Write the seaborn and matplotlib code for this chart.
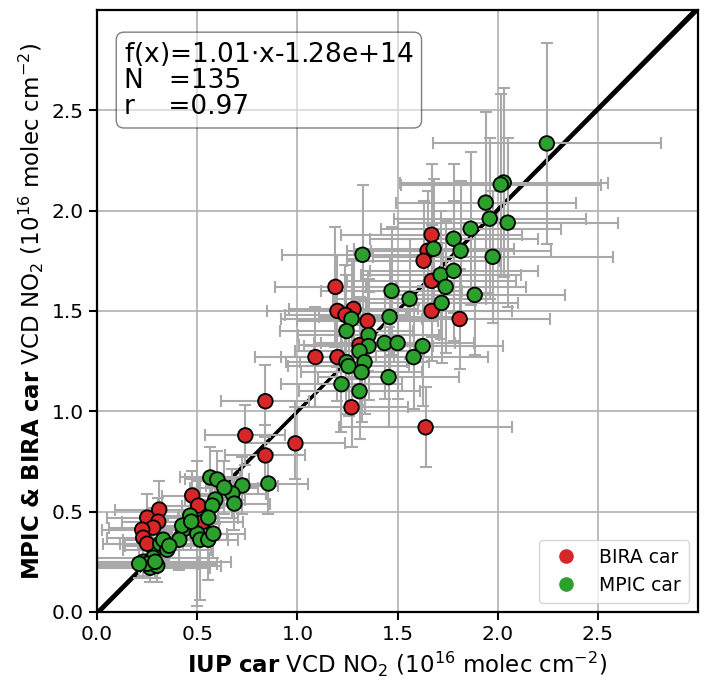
import numpy as np
import pandas as pd
import seaborn as sns
import matplotlib.pyplot as plt
from matplotlib.lines import Line2D

# VCD NO2 in 1e16 molec cm-2
bira_x = [1.67, 1.65, 1.63, 1.67, 1.67, 1.81, 1.64, 1.19, 1.20, 1.28,
          1.35, 1.31, 1.20, 1.09, 1.27, 0.74, 0.84, 0.84, 0.99, 1.24,
          0.475, 0.505, 0.53, 0.31, 0.25, 0.305, 0.28, 0.225, 0.23, 0.25]
bira_y = [1.88, 1.80, 1.75, 1.65, 1.50, 1.46, 0.92, 1.62, 1.50, 1.51,
          1.45, 1.33, 1.27, 1.27, 1.02, 0.88, 1.05, 0.78, 0.84, 1.48,
          0.58, 0.53, 0.45, 0.51, 0.47, 0.45, 0.42, 0.41, 0.37, 0.34]
bira_xerr = [0.45, 0.40, 0.38, 0.42, 0.40, 0.45, 0.43, 0.30, 0.35, 0.32,
             0.35, 0.30, 0.28, 0.30, 0.28, 0.20, 0.22, 0.20, 0.25, 0.30,
             0.15, 0.18, 0.20, 0.22, 0.20, 0.18, 0.22, 0.20, 0.18, 0.22]
bira_yerr = [0.35, 0.30, 0.30, 0.28, 0.25, 0.25, 0.20, 0.30, 0.28, 0.25,
             0.25, 0.22, 0.22, 0.25, 0.20, 0.15, 0.18, 0.15, 0.18, 0.25,
             0.12, 0.12, 0.10, 0.14, 0.12, 0.12, 0.10, 0.10, 0.10, 0.12]

mpic_x = [2.245, 2.03, 2.015, 1.94, 1.96, 2.05, 1.865, 1.78, 1.68, 1.815,
          1.975, 1.715, 1.78, 1.74, 1.885, 1.72, 1.56, 1.47, 1.46, 1.325,
          1.27, 1.245, 1.355, 1.355, 1.435, 1.50, 1.625, 1.58, 1.31, 1.245,
          1.255, 1.335, 1.32, 1.455, 1.22, 1.31,
          0.855, 0.725, 0.675, 0.685, 0.565, 0.60, 0.635, 0.59, 0.575, 0.465,
          0.555, 0.43, 0.41, 0.50, 0.515, 0.555, 0.58, 0.315, 0.35, 0.28,
          0.265, 0.23, 0.30, 0.425, 0.47, 0.33, 0.36, 0.25, 0.21, 0.29]
mpic_y = [2.335, 2.14, 2.13, 2.04, 1.96, 1.94, 1.91, 1.86, 1.81, 1.80,
          1.77, 1.68, 1.70, 1.62, 1.58, 1.54, 1.56, 1.60, 1.47, 1.78,
          1.46, 1.40, 1.38, 1.325, 1.34, 1.34, 1.325, 1.27, 1.30, 1.245,
          1.225, 1.245, 1.195, 1.17, 1.135, 1.10,
          0.64, 0.63, 0.59, 0.54, 0.67, 0.66, 0.62, 0.56, 0.53, 0.48,
          0.47, 0.41, 0.36, 0.39, 0.36, 0.36, 0.39, 0.34, 0.31, 0.27,
          0.22, 0.25, 0.23, 0.43, 0.45, 0.36, 0.33, 0.24, 0.24, 0.25]
mpic_xerr = [0.57, 0.52, 0.50, 0.45, 0.48, 0.55, 0.45, 0.42, 0.40, 0.45,
             0.60, 0.40, 0.42, 0.40, 0.45, 0.38, 0.38, 0.35, 0.35, 0.40,
             0.35, 0.33, 0.35, 0.32, 0.35, 0.38, 0.40, 0.37, 0.32, 0.30,
             0.30, 0.32, 0.30, 0.35, 0.30, 0.30,
             0.20, 0.18, 0.17, 0.18, 0.15, 0.16, 0.17, 0.15, 0.15, 0.14,
             0.15, 0.13, 0.14, 0.15, 0.14, 0.15, 0.16, 0.20, 0.22, 0.28,
             0.30, 0.28, 0.32, 0.14, 0.14, 0.20, 0.22, 0.35, 0.30, 0.38]
mpic_yerr = [0.50, 0.47, 0.45, 0.45, 0.40, 0.42, 0.38, 0.37, 0.35, 0.35,
             0.33, 0.32, 0.35, 0.33, 0.30, 0.30, 0.30, 0.32, 0.30, 0.35,
             0.30, 0.28, 0.28, 0.27, 0.28, 0.28, 0.30, 0.26, 0.27, 0.26,
             0.25, 0.26, 0.25, 0.25, 0.24, 0.24,
             0.15, 0.14, 0.12, 0.13, 0.15, 0.14, 0.13, 0.12, 0.12, 0.11,
             0.12, 0.10, 0.15, 0.36, 0.30, 0.20, 0.12, 0.10, 0.09, 0.08,
             0.07, 0.07, 0.08, 0.10, 0.11, 0.10, 0.09, 0.07, 0.07, 0.08]

fit_slope = 1.01
fit_offset = -1.28e14 / 1e16
n_points = 135
r_value = 0.97

colors = {"BIRA car": "tab:red", "MPIC car": "tab:green"}

df = pd.concat([
    pd.DataFrame({"x": bira_x, "y": bira_y, "xerr": bira_xerr,
                  "yerr": bira_yerr, "car": "BIRA car"}),
    pd.DataFrame({"x": mpic_x, "y": mpic_y, "xerr": mpic_xerr,
                  "yerr": mpic_yerr, "car": "MPIC car"}),
], ignore_index=True)

fig = plt.figure(figsize=(7.09, 6.93), dpi=100)
ax = fig.add_axes([0.137, 0.117, 0.8475, 0.8686])

lim = 3.0
xx = np.array([0, lim])
ax.plot(xx, xx, color="black", lw=2.2, zorder=1)
ax.plot(xx, fit_slope * xx + fit_offset, color="black", lw=2.2, zorder=1)

ax.errorbar(df["x"], df["y"], xerr=df["xerr"], yerr=df["yerr"], fmt="none",
            ecolor="darkgray", elinewidth=1.5, capsize=4, capthick=1.5, zorder=2)

sns.scatterplot(data=df, x="x", y="y", hue="car", palette=colors, s=110,
                edgecolor="black", linewidth=1.3, legend=False, ax=ax, zorder=3)

ax.set_xlim(0, lim)
ax.set_ylim(0, lim)
ticks = [0.0, 0.5, 1.0, 1.5, 2.0, 2.5]
ax.set_xticks(ticks)
ax.set_yticks(ticks)
ax.tick_params(labelsize=14.5, width=1.5, length=6)
for sp in ax.spines.values():
    sp.set_linewidth(1.6)
ax.grid(True, color="#b0b0b0", lw=1.2)
ax.set_axisbelow(True)

ax.set_xlabel(r"$\bf{IUP\ car}$ VCD NO$_2$ (10$^{16}$ molec cm$^{-2}$)", fontsize=16.5)
ax.set_ylabel(r"$\bf{MPIC\ &\ BIRA\ car}$ VCD NO$_2$ (10$^{16}$ molec cm$^{-2}$)",
              fontsize=16.5)

txt = (f"f(x)={fit_slope:.2f}$\\cdot$x-1.28e+14\n"
       f"N   ={n_points}\n"
       f"r    ={r_value:.2f}")
ax.text(0.045, 0.95, txt, transform=ax.transAxes, fontsize=19, va="top",
        ha="left", linespacing=1.0,
        bbox=dict(boxstyle="round", facecolor="white", alpha=0.5), zorder=5)

handles = [Line2D([], [], marker="o", ls="", color=c, markersize=9.5, label=k)
           for k, c in colors.items()]
ax.legend(handles=handles, loc="lower right", fontsize=13.5)

plt.savefig("out.png", dpi=100)
plt.close()
